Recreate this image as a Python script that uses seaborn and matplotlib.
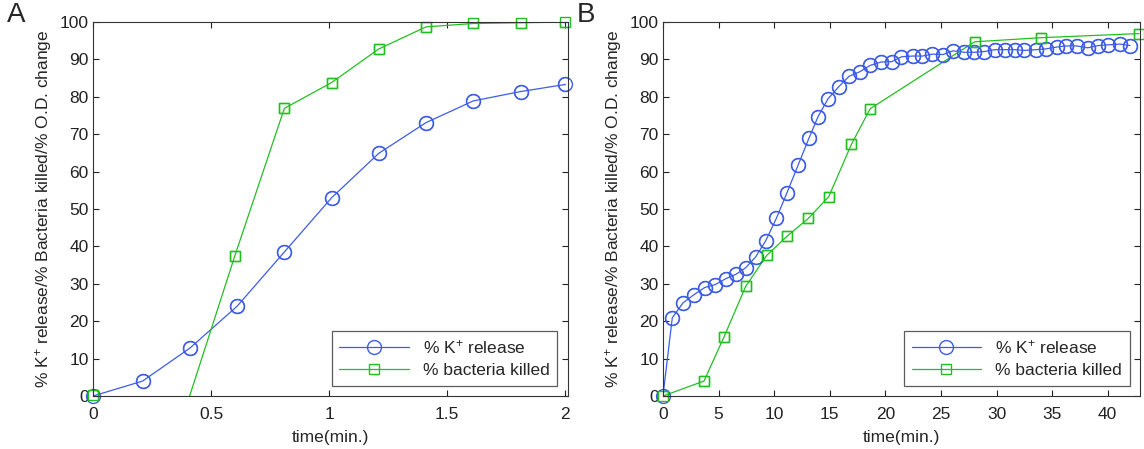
import numpy as np
import pandas as pd
import seaborn as sns
import matplotlib.pyplot as plt

# panel A: 0-2 min
a_k_time = [0, 0.21, 0.41, 0.61, 0.81, 1.01, 1.21, 1.41, 1.61, 1.81, 2.0]
a_k_val = [0, 4.0, 12.8, 24.0, 38.5, 53.0, 64.9, 73.1, 78.9, 81.4, 83.3]
a_kill_time = [0, 0.21, 0.6, 0.81, 1.01, 1.21, 1.41, 1.61, 1.81, 2.0]
a_kill_val = [0.3, -39.0, 37.4, 76.9, 83.8, 92.8, 98.7, 99.6, 99.8, 100.0]

# panel B: 0-43 min
b_k_time = [0, 0.84, 1.8, 2.79, 3.75, 4.71, 5.67, 6.54, 7.44, 8.34, 9.24,
            10.2, 11.16, 12.15, 13.14, 13.95, 14.85, 15.81, 16.74, 17.7,
            18.63, 19.62, 20.58, 21.45, 22.5, 23.34, 24.24, 25.2, 26.1,
            27.09, 27.99, 28.89, 29.85, 30.75, 31.65, 32.46, 33.54, 34.41,
            35.4, 36.24, 37.2, 38.19, 39.15, 40.05, 41.1, 42.0]
b_k_val = [0, 20.9, 24.9, 27.1, 29.0, 29.8, 31.4, 32.5, 34.3, 37.2, 41.5,
           47.5, 54.4, 61.7, 69.0, 74.7, 79.5, 82.7, 85.5, 86.7,
           88.4, 89.3, 89.4, 90.7, 90.9, 90.9, 91.4, 91.3, 92.3,
           91.9, 91.9, 92.1, 92.6, 92.6, 92.6, 92.4, 92.6, 92.8,
           93.3, 93.6, 93.6, 93.1, 93.7, 93.9, 94.1, 93.7]
b_kill_time = [0, 3.69, 5.49, 7.44, 9.33, 11.19, 13.08, 14.91, 16.95, 18.63,
               28.02, 33.96, 42.81]
b_kill_val = [0, 4.0, 15.8, 29.3, 37.6, 42.8, 47.5, 53.3, 67.3, 76.8,
              94.7, 95.8, 96.9]

k_label = "% K$^{+}$ release"
kill_label = "% bacteria killed"
ylabel = "% K$^{+}$ release/% Bacteria killed/% O.D. change"
blue = "#3d5ce8"
green = "#22bf22"
fs = 12.5

sns.set_style("ticks")
plt.rcParams["font.family"] = ["Liberation Sans", "DejaVu Sans"]
plt.rcParams["mathtext.default"] = "regular"
plt.rcParams["xtick.direction"] = "in"
plt.rcParams["ytick.direction"] = "in"

fig = plt.figure(figsize=(11.44, 4.49), dpi=100)
ax_a = fig.add_axes([0.0813, 0.118, 0.415, 0.833])
ax_b = fig.add_axes([0.5795, 0.118, 0.417, 0.833])

panels = [
    (ax_a, a_k_time, a_k_val, a_kill_time, a_kill_val, 2.01, [0, 0.5, 1, 1.5, 2], "A"),
    (ax_b, b_k_time, b_k_val, b_kill_time, b_kill_val, 42.9, [0, 5, 10, 15, 20, 25, 30, 35, 40], "B"),
]

for ax, kt, kv, st, sv, xmax, xt, tag in panels:
    k_df = pd.DataFrame({"t": kt, "v": kv})
    s_df = pd.DataFrame({"t": st, "v": sv})
    sns.lineplot(data=k_df, x="t", y="v", ax=ax, color=blue, lw=0.9,
                 marker="o", ms=10, mfc="none", mec=blue, mew=1.0,
                 sort=False, label=k_label)
    sns.lineplot(data=s_df, x="t", y="v", ax=ax, color=green, lw=0.9,
                 marker="s", ms=7.5, mfc="none", mec=green, mew=1.0,
                 sort=False, label=kill_label)
    # markers on the axis edge are drawn whole, like the original
    for df, col, m, s in [(k_df, blue, "o", 10), (s_df, green, "s", 7.5)]:
        vis = df[df.v >= 0]
        ax.plot(vis.t, vis.v, ls="none", marker=m, ms=s, mfc="none",
                mec=col, mew=1.0, clip_on=False)
    ax.set_xlim(0, xmax)
    ax.set_ylim(0, 100)
    ax.set_xticks(xt)
    ax.set_xticklabels([str(x) for x in xt])
    ax.set_yticks(range(0, 101, 10))
    ax.tick_params(top=True, right=True, labelsize=fs, length=4, width=0.8,
                   colors="#222222")
    ax.tick_params(axis="x", pad=8)
    ax.tick_params(axis="y", pad=3)
    for sp in ax.spines.values():
        sp.set_linewidth(0.8)
        sp.set_color("#333333")
    ax.set_xlabel("time(min.)", fontsize=fs, labelpad=6)
    ax.set_ylabel(ylabel, fontsize=fs, labelpad=4)
    leg = ax.legend(loc="lower right", fontsize=fs, frameon=True,
                    fancybox=False, edgecolor="#333333", handlelength=4.0,
                    borderaxespad=0.6, labelspacing=0.35, borderpad=0.45,
                    handletextpad=0.8)
    leg.get_frame().set_linewidth(0.9)
    pos = ax.get_position()
    fig.text(pos.x0 - 0.075, 0.995, tag, fontsize=20, va="top", ha="left")

fig.savefig("out.png", dpi=100)
